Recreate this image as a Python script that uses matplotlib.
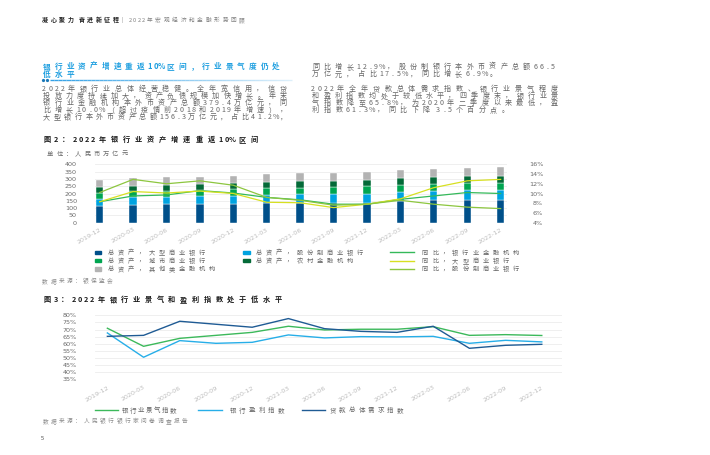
import matplotlib
matplotlib.use('Agg')
import matplotlib.pyplot as plt
import numpy as np
from matplotlib.collections import LineCollection
from matplotlib.lines import Line2D
from matplotlib.patches import Rectangle

W, H = 710, 455
CJK = ['Noto Sans CJK SC', 'DejaVu Sans']

# ---------------- data ----------------
periods = ['2019-12', '2020-03', '2020-06', '2020-09', '2020-12', '2021-03', '2021-06',
           '2021-09', '2021-12', '2022-03', '2022-06', '2022-09', '2022-12']

# Figure 2: total assets (trillion RMB)
assets_large = [115, 123, 126, 128, 128, 133, 133, 134, 137, 149, 153, 153, 156.3]
assets_joint = [49, 51, 52, 55, 58, 60, 62, 64, 63, 63, 66, 69, 66.5]
assets_city = [41, 40, 41, 43, 42, 43, 46, 44, 48, 46, 46, 47, 49.4]
assets_rural = [37, 39, 41, 40, 42, 45, 43, 46, 45, 47, 47, 49, 51]
assets_other = [49, 52, 52, 50, 51, 52, 56, 54, 54, 53, 55, 56, 56.2]
# yoy growth (%)
yoy_total = [8.3, 9.5, 9.7, 10.6, 10.1, 9.2, 8.7, 7.8, 7.8, 8.8, 9.5, 10.2, 10.0]
yoy_large = [8.3, 10.4, 10.1, 10.5, 10.0, 8.2, 8.1, 7.1, 7.8, 8.9, 11.2, 12.6, 12.9]
yoy_joint = [10.2, 12.9, 12.0, 12.6, 11.7, 9.2, 8.6, 7.6, 7.8, 8.6, 7.8, 7.2, 6.9]

bar_labels = ['总资产，大型商业银行', '总资产，股份制商业银行', '总资产，城市商业银行',
              '总资产，农村金融机构', '总资产，其他类金融机构']
line_labels = ['同比，银行业金融机构', '同比，大型商业银行', '同比，股份制商业银行']

# Figure 3: indices (%)
idx_climate = [70.9, 58.2, 63.8, 65.9, 68.0, 72.3, 69.7, 70.2, 70.2, 72.0, 65.9, 66.4, 65.8]
idx_profit = [67.6, 50.5, 62.2, 60.3, 61.0, 66.2, 64.1, 65.0, 64.8, 65.2, 60.3, 62.4, 61.3]
idx_loan = [65.2, 65.9, 75.8, 73.7, 71.6, 77.7, 70.6, 68.7, 68.0, 72.3, 56.8, 58.9, 59.6]
idx_labels = ['银行业景气指数', '银行盈利指数', '贷款总体需求指数']

left_tick_vals = list(range(0, 401, 50))
right_tick_vals = list(range(4, 17, 2))
idx_tick_vals = list(range(35, 81, 5))

# ---------------- styles ----------------
C_BARS = ['#00508a', '#00a3e0', '#00a551', '#046a38', '#b3b3b3']
C_LINES = ['#34b95a', '#d7e021', '#8dc63f']
C_IDX = ['#3cb95b', '#27aee8', '#1f5b94']
TXT = '#666666'

fig = plt.figure(figsize=(7.1, 4.55), dpi=100)
fig.patch.set_facecolor('white')


def stext(x, y, s, size, color=TXT, x1=None, pitch=None, weight='normal', narrow=0.52):
    ws = []
    for c in s:
        if c == ' ':
            ws.append(narrow * 0.5)
        elif ord(c) > 0x2000:
            ws.append(1.0)
        else:
            ws.append(narrow)
    tot = sum(ws)
    if x1 is not None:
        pitch = (x1 - x) / tot
    em = size * 100 / 72.0
    yb = y + 0.38 * em
    cum = 0.0
    for c, w in zip(s, ws):
        if c != ' ':
            fig.text((x + pitch * (cum + w / 2)) / W, 1 - yb / H, c, fontsize=size,
                     color=color, ha='center', va='baseline', family=CJK,
                     fontweight=weight)
        cum += w
    return pitch


def fx(x):
    return x / W


def fy(y):
    return 1 - y / H


# ---------------- header ----------------
stext(41, 20, '凝心聚力 奋进新征程', 4.3, color='#222222', x1=120, weight='bold')
stext(121, 20, '|', 4.3, color='#888888', pitch=5)
stext(128, 20, '2022年宏观经济和金融形势回顾', 4.1, color='#808080', x1=246)

# ---------------- section title ----------------
BLUE = '#1e9fe0'
p = stext(41, 66, '银行业资产增速重返10%区间，行业景气度仍处', 5.5, color=BLUE, x1=282, weight='bold')
stext(41, 73.7, '低水平', 5.5, color=BLUE, pitch=p, weight='bold')
fig.add_artist(Line2D([fx(42.5), fx(46.5)], [fy(80.3), fy(80.3)], ls='none', marker='o',
                      ms=1.3, color='#1a78b8', transform=fig.transFigure))
xs = np.linspace(50, 292, 60)
segs = [[(fx(xs[i]), fy(80.3)), (fx(xs[i + 1]), fy(80.3))] for i in range(len(xs) - 1)]
cols = [(0.2, 0.63, 0.9, 1 - 0.85 * i / (len(xs) - 1)) for i in range(len(xs) - 1)]
fig.add_artist(LineCollection(segs, colors=cols, linewidths=1.0, transform=fig.transFigure))

# ---------------- body text ----------------
BODY = 5.1
left_lines = ['2022年银行业总体经营稳健。全年宽信用，信贷',
              '投放力度持续加大，资产负债规模加快增长。年末',
              '银行业金融机构本外币资产总额379.4万亿元，同',
              '比增长10.0%（超过疫情前2018和2019年增速），',
              '大型银行本外币资产总额156.3万亿元，占比41.2%，']
for s, y in zip(left_lines, [88.3, 95.3, 102.2, 109.2, 116.5]):
    stext(41, y, s, BODY, x1=289)

p = stext(310, 66, '同比增长12.9%，股份制银行本外币资产总额66.5', BODY, x1=556)
stext(310, 73.7, '万亿元，占比17.5%，同比增长6.9%。', BODY, pitch=p)
right_lines = ['2022年全年贷款总体需求指数、银行业景气程度',
               '和盈利指数均处于较低水平，四季度末，银行业景',
               '气指数降至65.8%，为2020年二季度以来最低，盈']
for s, y in zip(right_lines, [88.3, 95.3, 102.2]):
    p = stext(310, y, s, BODY, x1=560)
stext(310, 109.2, '利指数61.3%，同比下降 3.5个百分点。', BODY, pitch=p)

# ---------------- figure 2 ----------------
stext(41, 139, '图2：2022年银行业资产增速重返10%区间', 5.2, color='#1a1a1a', x1=260, weight='bold')
stext(45.5, 153.3, '单位：人民币万亿元', 4.5, color='#6a6a6a', x1=129)

TICK = 4.6
ax = fig.add_axes([fx(95), fy(222.7), 412 / W, 58.4 / H])
x = np.arange(len(periods))
series = [assets_large, assets_joint, assets_city, assets_rural, assets_other]
bottom = np.zeros(len(periods))
for vals, c in zip(series, C_BARS):
    ax.bar(x, vals, 0.22, bottom=bottom, color=c, edgecolor='white', linewidth=0.3, zorder=2)
    bottom = bottom + np.array(vals)
ax.set_xlim(-0.14, 12.19)
ax.set_ylim(0, 400)
ax.set_yticks(left_tick_vals)
ax.set_yticklabels([str(v) for v in left_tick_vals])
ax.yaxis.grid(True, color='#ececec', lw=0.6, zorder=0)
ax.set_axisbelow(True)
for sp in ax.spines.values():
    sp.set_visible(False)
ax.set_xticks(x)
ax.set_xticklabels(periods, rotation=30, ha='right', rotation_mode='anchor',
                   fontsize=4.6, color='#bdbdbd', family='DejaVu Sans')
ax.tick_params(axis='x', length=0, pad=3)
ax.tick_params(axis='y', length=0, pad=13, labelsize=TICK, labelcolor='#6a6a6a')

axr = ax.twinx()
for vals, c in zip([yoy_total, yoy_large, yoy_joint], C_LINES):
    axr.plot(x, vals, color=c, lw=0.9, zorder=3)
axr.set_ylim(4, 16)
axr.set_yticks(right_tick_vals)
axr.set_yticklabels([f'{v}%' for v in right_tick_vals])
for lab in axr.get_yticklabels():
    lab.set_ha('right')
axr.tick_params(axis='y', length=0, pad=26, labelsize=TICK, labelcolor='#6a6a6a')
for sp in axr.spines.values():
    sp.set_visible(False)
axr.set_xlim(-0.14, 12.19)

# legend figure 2
leg_rows = [252.3, 260.7, 269.0]
bar_pos = [(95, 0), (243, 0), (95, 1), (243, 1), (95, 2)]
for (lx, r), lab, c in zip(bar_pos, bar_labels, C_BARS):
    yy = leg_rows[r]
    fig.add_artist(Rectangle((fx(lx), fy(yy + 1.6)), 6.5 / W, 3.2 / H, color=c,
                             transform=fig.transFigure))
    stext(lx + 11, yy, lab, 4.5, color='#666666', pitch=10.1)
for r, (lab, c) in enumerate(zip(line_labels, C_LINES)):
    yy = leg_rows[r]
    fig.add_artist(Line2D([fx(390), fx(414)], [fy(yy), fy(yy)], color=c, lw=1.0,
                          transform=fig.transFigure))
    stext(420, yy, lab, 4.5, color='#666666', pitch=10.1)

stext(41, 280.7, '数据来源：银保监会', 4.1, color='#8a8a8a', x1=114)

# ---------------- figure 3 ----------------
stext(41, 299.3, '图3：2022年银行业景气和盈利指数处于低水平', 5.2, color='#1a1a1a', x1=284, weight='bold')

ax3 = fig.add_axes([fx(94.7), fy(379.3), 467 / W, 64 / H])
for vals, c in zip([idx_climate, idx_profit, idx_loan], C_IDX):
    ax3.plot(x, vals, color=c, lw=1.0, zorder=3)
ax3.set_xlim(-0.35, 12.55)
ax3.set_ylim(35, 80)
ax3.set_yticks(idx_tick_vals)
ax3.set_yticklabels([f'{v}%' for v in idx_tick_vals])
ax3.yaxis.grid(True, color='#ececec', lw=0.6, zorder=0)
ax3.set_axisbelow(True)
for sp in ax3.spines.values():
    sp.set_visible(False)
ax3.set_xticks(x)
ax3.set_xticklabels(periods, rotation=30, ha='right', rotation_mode='anchor',
                    fontsize=4.6, color='#bdbdbd', family='DejaVu Sans')
ax3.tick_params(axis='x', length=0, pad=4)
ax3.tick_params(axis='y', length=0, pad=13, labelsize=TICK, labelcolor='#6a6a6a')

# legend figure 3
leg3 = [(95, 118, 121, 8.0), (198, 222, 228, 9.6), (302, 325, 328, 9.6)]
for (l0, l1, tx, pt), lab, c in zip(leg3, idx_labels, C_IDX):
    fig.add_artist(Line2D([fx(l0), fx(l1)], [fy(410), fy(410)], color=c, lw=1.0,
                          transform=fig.transFigure))
    stext(tx, 410, lab, 4.7, color='#666666', pitch=pt)

stext(41, 421, '数据来源：人民银行银行家问卷调查报告', 4.1, color='#8a8a8a', x1=189)
stext(41, 438.3, '5', 4.1, color='#444444', pitch=6)

fig.savefig('out.png', dpi=100, facecolor='white')
